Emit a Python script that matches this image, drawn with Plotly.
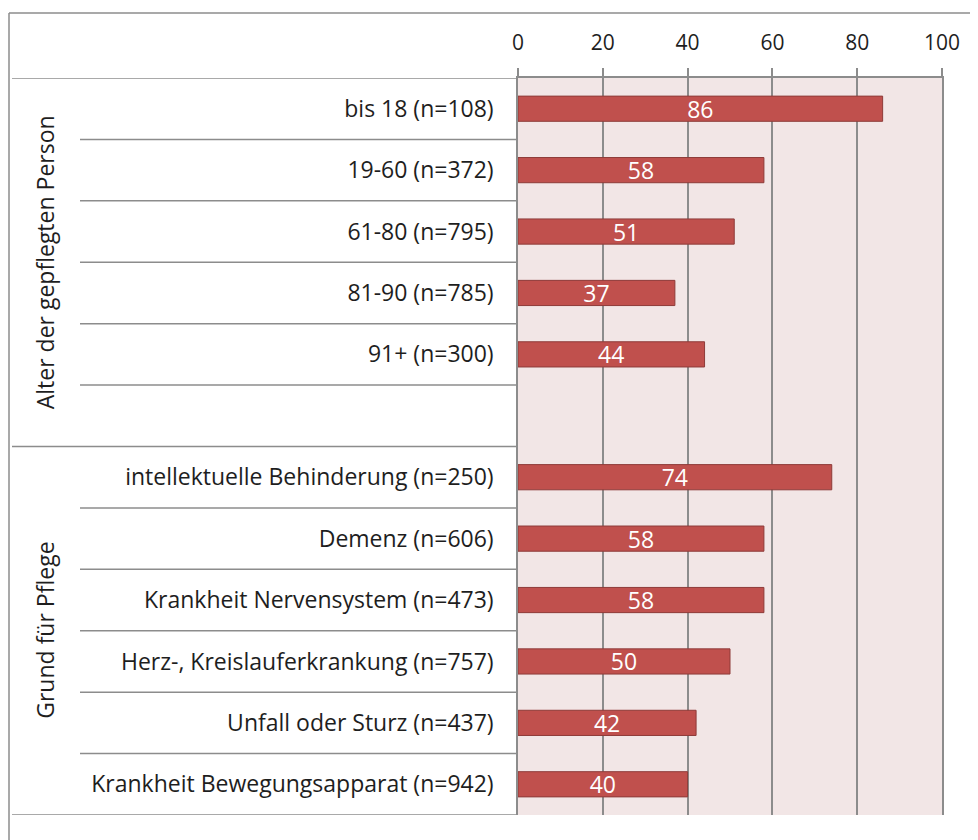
import plotly.graph_objects as go

# ---- data ----
group1_labels = ["bis 18 (n=108)", "19-60 (n=372)", "61-80 (n=795)", "81-90 (n=785)", "91+ (n=300)"]
group1_values = [86, 58, 51, 37, 44]
group2_labels = ["intellektuelle Behinderung (n=250)", "Demenz (n=606)", "Krankheit Nervensystem (n=473)",
                 "Herz-, Kreislauferkrankung (n=757)", "Unfall oder Sturz (n=437)",
                 "Krankheit Bewegungsapparat (n=942)"]
group2_values = [74, 58, 58, 50, 42, 40]
group_titles = ["Alter der gepflegten Person", "Grund für Pflege"]
x_ticks = [0, 20, 40, 60, 80, 100]

spacer = " "
categories = group1_labels + [spacer] + group2_labels
labels = group1_labels + group2_labels
values = group1_values + group2_values

# ---- layout geometry (figure pixels; page adds an 8px body margin) ----
OFF = 8
W, H = 978 - OFF, 840 - OFF
L, R, T, B = 518 - OFF, 942 - OFF, 78 - OFF, 815 - OFF
pw, ph = R - L, B - T

def px_x(p):
    return (p - OFF - L) / pw

def px_y(p):
    return 1 - (p - OFF - T) / ph

FONT = "'Open Sans', sans-serif"
GRID = "#8c8c8c"
TXT = "#1e1e1e"

fig = go.Figure()
fig.add_trace(go.Bar(
    x=values, y=labels, orientation="h",
    width=0.41,
    marker=dict(color="#C0504D", line=dict(color="#8E3B39", width=1)),
    text=[str(v) for v in values],
    textposition="inside", insidetextanchor="middle",
    textangle=0, constraintext="none",
    textfont=dict(color="white", size=23, family=FONT),
    cliponaxis=False,
    hoverinfo="x+y",
))

shapes = []
n = len(categories)
for i in range(n + 1):
    yb = i - 0.5
    long = i in (0, 6, 12)
    shapes.append(dict(type="line", xref="paper", yref="y",
                       x0=px_x(12 if long else 80), x1=0, y0=yb, y1=yb,
                       line=dict(color=GRID, width=1.5), layer="above"))
# outer frame (left and top visible)
shapes.append(dict(type="line", xref="paper", yref="paper",
                   x0=px_x(9), x1=px_x(9), y0=px_y(13), y1=px_y(900),
                   line=dict(color=GRID, width=1.5)))
shapes.append(dict(type="line", xref="paper", yref="paper",
                   x0=px_x(9), x1=px_x(1000), y0=px_y(13), y1=px_y(13),
                   line=dict(color=GRID, width=1.5)))

annotations = []
group_centers = [2.5, 8.5]
for title, yc in zip(group_titles, group_centers):
    annotations.append(dict(text=title, xref="paper", yref="y", x=px_x(45), y=yc,
                            textangle=-90, showarrow=False,
                            font=dict(size=23, color=TXT, family=FONT),
                            xanchor="center", yanchor="middle"))

fig.update_layout(
    width=W, height=H,
    margin=dict(l=L, r=W - R, t=T, b=H - B, pad=0),
    paper_bgcolor="white",
    plot_bgcolor="#F2E6E6",
    showlegend=False,
    shapes=shapes,
    annotations=annotations,
    font=dict(family=FONT, color=TXT),
    xaxis=dict(
        side="top", range=[0, 100], tickvals=x_ticks, ticktext=[str(t) for t in x_ticks],
        showgrid=True, gridcolor=GRID, gridwidth=1.5,
        showline=True, linecolor=GRID, linewidth=1.5,
        ticks="outside", ticklen=8, tickcolor=GRID, tickwidth=1.5,
        ticklabelstandoff=10,
        tickfont=dict(size=21, color=TXT, family=FONT),
        zeroline=False, fixedrange=True,
    ),
    yaxis=dict(
        type="category", categoryorder="array", categoryarray=categories,
        range=[n - 0.5, -0.5],
        showgrid=False, zeroline=False,
        showline=True, mirror=True, linecolor=GRID, linewidth=1.5,
        ticks="", ticklabelstandoff=18,
        tickfont=dict(size=23, color=TXT, family=FONT),
        fixedrange=True,
    ),
)

fig.write_html("out.html")
